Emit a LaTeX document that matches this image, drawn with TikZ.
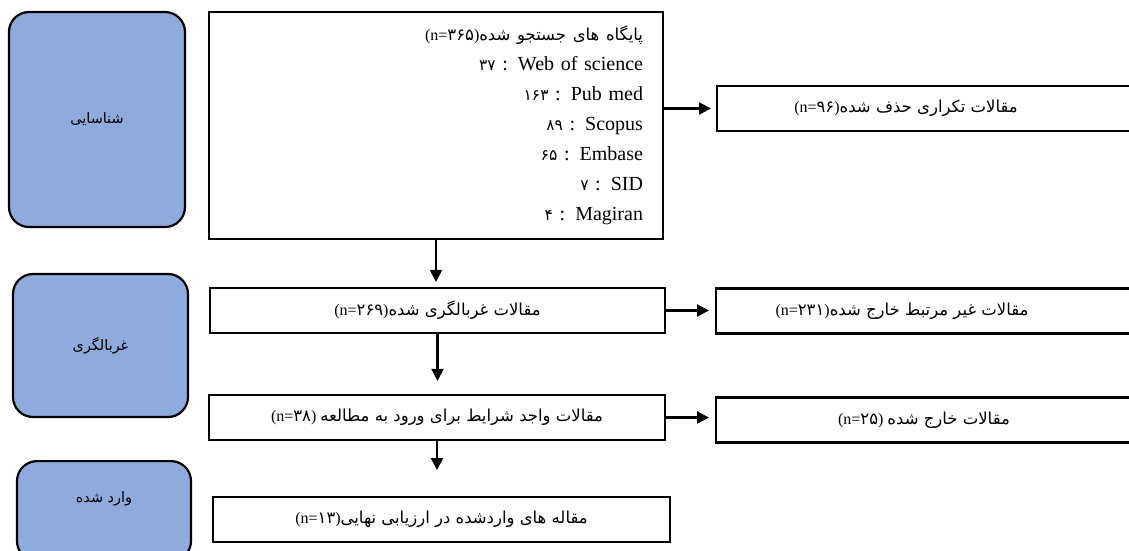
\documentclass[tikz,border=0pt]{standalone}
\usepackage{fontspec}
\setmainfont{Liberation Serif}
\newfontfamily\persianfont[Script=Arabic,Scale=1.03]{DejaVu Sans}
\TeXXeTstate=1
\usepackage{tikz}
\usetikzlibrary{arrows.meta,positioning}
\definecolor{stageblue}{RGB}{143,170,220}
\newcommand{\fa}[1]{{\persianfont\beginR #1\endR}}
\newcommand{\fanum}[1]{{\persianfont #1}}
\newcommand{\listnum}[1]{{\fontsize{15}{30}\persianfont #1}}

\begin{document}
\begin{tikzpicture}[x=1pt,y=-1pt,
    stage/.style={draw=black, line width=2.2pt, fill=stageblue, rounded corners=20pt, inner sep=0pt, font=\fontsize{14}{18}\selectfont},
    flowbox/.style={draw=black, line width=2.2pt, fill=white, inner sep=0pt, minimum height=45pt, font=\fontsize{16}{20}\selectfont},
    sidebox/.style={flowbox, minimum width=430pt, anchor=west},
    boxtext/.style={font=\fontsize{16}{20}\selectfont},
    flow/.style={line width=2.2pt, -{Triangle[length=12pt,width=12pt]}}
]
\clip (0,0) rectangle (1129,550);

\node[stage, minimum width=176pt, minimum height=215pt] (identify) at (97,119.5) {\fa{شناسایی}};
\node[stage, minimum width=175pt, minimum height=143pt] (screening) at (100.5,345.5) {\fa{غربالگری}};
\node[stage, minimum width=174pt, anchor=north, text height=41pt, text depth=59pt] (included) at (104,460) {\fa{وارد شده}};

\node[flowbox, minimum width=454pt, minimum height=227pt, text width=414pt, align=right, font=\fontsize{20}{30}\selectfont] (search) at (436,125.5) {%
    {\fontsize{16}{30}\selectfont(n=\fanum{۳۶۵})\fa{پایگاه های جستجو شده}}\\
    \listnum{۳۷} : Web of science\\
    \listnum{۱۶۳} : Pub med\\
    \listnum{۸۹} : Scopus\\
    \listnum{۶۵} : Embase\\
    \listnum{۷} : SID\\
    \listnum{۴} : Magiran};
\node[flowbox, minimum width=455pt] (screened) at (437.5,310.5) {(n=\fanum{۲۶۹})\fa{مقالات غربالگری شده}};
\node[flowbox, minimum width=456pt] (eligible) at (437,417.5) {(n=\fanum{۳۸}) \fa{مقالات واجد شرایط برای ورود به مطالعه}};
\node[flowbox, minimum width=457pt] (final) at (441.5,519.5) {(n=\fanum{۱۳})\fa{مقاله های واردشده در ارزیابی نهایی}};

\node[sidebox] (duplicates) at (716,108.5) {};
\node[boxtext] (duplabel) at (906,108.5) {(n=\fanum{۹۶})\fa{مقالات تکراری حذف شده}};
\node[sidebox] (irrelevant) at (715,311) {};
\node[boxtext] (irrlabel) at (902,311) {(n=\fanum{۲۳۱})\fa{مقالات غیر مرتبط خارج شده}};
\node[sidebox] (excluded) at (715,420) {};
\node[boxtext] (exclabel) at (924,420) {(n=\fanum{۲۵}) \fa{مقالات خارج شده}};

\coordinate (finalgap) at (437,470);

\draw[flow, shorten >=5pt] (search.east |- duplicates.west) -- (duplicates.west);
\draw[flow, shorten >=5pt] (search.south) -- (search.south |- screened.north);
\draw[flow, shorten >=6pt] (screened.east) -- (screened.east -| irrelevant.west);
\draw[flow, shorten >=13pt] (screened.south) -- (screened.south |- eligible.north);
\draw[flow, shorten >=6pt] (eligible.east) -- (eligible.east -| excluded.west);
\draw[flow] (eligible.south) -- (finalgap);
\end{tikzpicture}
\end{document}
